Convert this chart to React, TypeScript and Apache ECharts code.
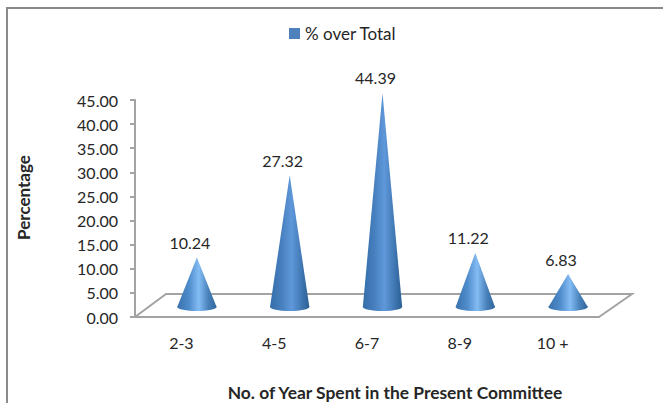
import React, { useEffect, useRef } from "react";
import * as echarts from "echarts";

const categories = ["2-3", "4-5", "6-7", "8-9", "10 +"];
const shares = [10.24, 27.32, 44.39, 11.22, 6.83];
const seriesName = "% over Total";
const xTitle = "No. of Year Spent in the Present Committee";
const yTitle = "Percentage";

const FONT = "Lato";
const AXIS_GREY = "#a3a3a3";
const INK = "#262626";
const DEPTH_X = 31; // horizontal run of the floor's slanted edge
const DEPTH_Y = 23; // vertical rise of the floor's slanted edge

// Horizontal shading of a cone; tall cones catch a softer highlight.
const coneFill = (value: number) => {
  const tall = value > 20;
  return new echarts.graphic.LinearGradient(0, 0, 1, 0, [
    { offset: 0, color: tall ? "#336ea8" : "#3a72ad" },
    { offset: 0.3, color: tall ? "#4880bf" : "#4f8ccb" },
    { offset: 0.55, color: tall ? "#5f98da" : "#84bcf4" },
    { offset: 0.8, color: tall ? "#4178b4" : "#477fb9" },
    { offset: 1, color: tall ? "#2b5f93" : "#2f659c" },
  ]);
};

const renderCone = (params: any, api: any) => {
  const index = api.value(0);
  const value = api.value(1);
  const [cx0] = api.coord([index, 0]);
  const band = api.size([1, 0])[0];
  const cx = cx0 + DEPTH_X / 2;
  const baseY = api.coord([index, 0])[1] - 10;
  const tipY = baseY - (api.coord([index, 0])[1] - api.coord([index, value])[1]);
  const rx = band * 0.212;
  const ry = 4;
  const fill = coneFill(value);
  return {
    type: "group",
    children: [
      {
        type: "ellipse",
        shape: { cx, cy: baseY, rx, ry },
        style: { fill },
      },
      {
        type: "polygon",
        shape: {
          points: [
            [cx, tipY],
            [cx + rx, baseY],
            [cx - rx, baseY],
          ],
        },
        style: { fill },
      },
      {
        type: "text",
        style: {
          text: value.toFixed(2),
          x: cx - 7,
          y: tipY - 15,
          align: "center",
          verticalAlign: "middle",
          fontFamily: FONT,
          fontSize: 16,
          fill: INK,
        },
      },
    ],
  };
};

// The slanted floor that sits behind the cones.
const renderFloor = (params: any) => {
  const { x, y, width, height } = params.coordSys;
  const front = y + height;
  return {
    type: "polyline",
    shape: {
      points: [
        [x, front],
        [x + DEPTH_X, front - DEPTH_Y],
        [x + width + DEPTH_X + 2, front - DEPTH_Y],
        [x + width, front],
      ],
    },
    style: { fill: "none", stroke: AXIS_GREY, lineWidth: 2 },
  };
};

export default function App() {
  const ref = useRef<HTMLDivElement>(null);

  useEffect(() => {
    const chart = echarts.init(ref.current!, undefined, { renderer: "svg" });
    chart.setOption({
      animation: false,
      backgroundColor: "#ffffff",
      textStyle: { fontFamily: FONT },
      grid: { left: 135, right: 64, top: 100, bottom: 86, outerBoundsMode: "none" },
      legend: {
        data: [seriesName],
        left: 284,
        top: 20,
        icon: "rect",
        itemWidth: 11,
        itemHeight: 11,
        itemGap: 4,
        textStyle: { fontFamily: FONT, fontSize: 17, color: INK },
      },
      xAxis: {
        type: "category",
        data: categories,
        name: xTitle,
        nameLocation: "middle",
        nameGap: 67,
        nameTextStyle: { fontFamily: FONT, fontSize: 17.4, fontWeight: "bold", color: INK, padding: [0, 0, 0, 56] },
        axisLine: { lineStyle: { color: AXIS_GREY, width: 2 } },
        axisTick: { length: 5, lineStyle: { color: AXIS_GREY, width: 2 } },
        axisLabel: { fontFamily: FONT, fontSize: 16, color: INK, margin: 17 },
      },
      yAxis: {
        type: "value",
        min: 0,
        max: 45,
        interval: 5,
        name: yTitle,
        nameLocation: "middle",
        nameGap: 103,
        nameTextStyle: { fontFamily: FONT, fontSize: 17, fontWeight: "bold", color: INK, padding: [0, 0, 0, 22] },
        splitLine: { show: false },
        axisLine: { show: true, lineStyle: { color: AXIS_GREY, width: 2 } },
        axisTick: { show: true, length: 5, lineStyle: { color: AXIS_GREY, width: 2 } },
        axisLabel: {
          fontFamily: FONT,
          fontSize: 16,
          color: INK,
          margin: 17,
          formatter: (v: number) => v.toFixed(2),
        },
      },
      series: [
        {
          type: "custom",
          name: "floor",
          renderItem: renderFloor,
          data: [[0, 0]],
          silent: true,
          z: 1,
        },
        {
          type: "custom",
          name: seriesName,
          renderItem: renderCone,
          encode: { x: 0, y: 1 },
          itemStyle: { color: "#4f81bd" },
          data: shares.map((v, i) => [i, v]),
          z: 3,
        },
      ],
      graphic: [
        {
          type: "polyline",
          shape: { points: [[7, 403], [7, 8], [663, 8]] },
          style: { fill: "none", stroke: "#8a8a8a", lineWidth: 2 },
        },
      ],
    });
    return () => chart.dispose();
  }, []);

  return (
    <div
      ref={ref}
      style={{ position: "fixed", left: 0, top: 0, width: 663, height: 403 }}
    />
  );
}
